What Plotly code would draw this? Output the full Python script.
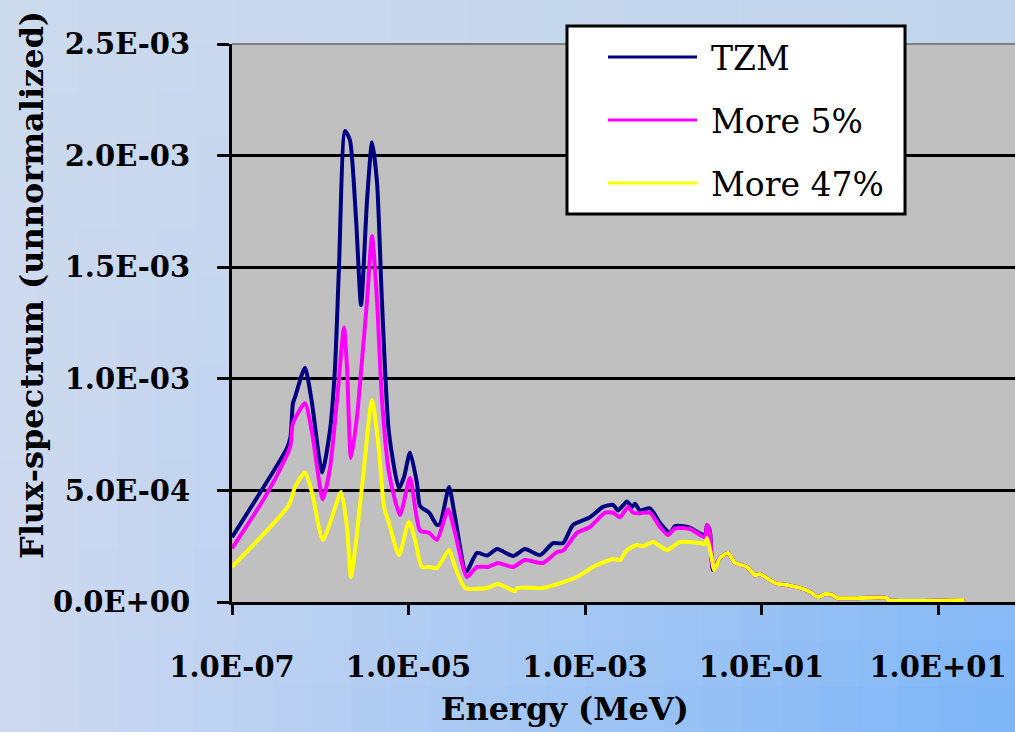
import plotly.graph_objects as go

# ---------------- data ----------------
tzm_E = [1.0e-7, 4.2e-7, 4.6e-7, 4.9e-7, 5.2e-7, 6.7e-7, 8.0e-7, 1.05e-6, 1.29e-6, 1.47e-6,
         1.63e-6, 1.91e-6, 2.17e-6, 2.54e-6, 2.90e-6, 3.39e-6, 3.86e-6, 4.40e-6, 5.0e-6, 6.0e-6,
         7.8e-6, 8.9e-6, 1.04e-5, 1.25e-5, 1.35e-5, 1.71e-5, 2.10e-5, 2.28e-5, 2.88e-5, 3.37e-5,
         4.5e-5, 5.97e-5, 7.76e-5, 1.01e-4, 1.53e-4, 2.09e-4, 3.09e-4, 4.34e-4, 5.64e-4, 7.31e-4,
         1.14e-3, 1.60e-3, 2.08e-3, 2.36e-3, 2.99e-3, 3.41e-3, 3.69e-3, 4.20e-3, 5.45e-3, 7.08e-3,
         9.19e-3, 1.05e-2, 1.47e-2, 2.29e-2, 2.41e-2, 2.6e-2, 2.82e-2]
tzm_v = [2.9e-4, 6.9e-4, 7.4e-4, 8.9e-4, 9.2e-4, 1.05e-3, 9.0e-4, 5.8e-4, 7.7e-4, 1.05e-3,
         1.5e-3, 2.11e-3, 2.07e-3, 1.72e-3, 1.33e-3, 1.80e-3, 2.06e-3, 1.88e-3, 1.35e-3, 7.6e-4,
         5.1e-4, 5.6e-4, 6.7e-4, 5.3e-4, 4.3e-4, 4.0e-4, 3.45e-4, 3.5e-4, 5.15e-4, 3.8e-4,
         1.35e-4, 2.2e-4, 2.08e-4, 2.37e-4, 2.06e-4, 2.37e-4, 2.1e-4, 2.64e-4, 2.64e-4, 3.45e-4,
         3.8e-4, 4.26e-4, 4.35e-4, 4.1e-4, 4.5e-4, 4.26e-4, 4.4e-4, 4.1e-4, 4.2e-4, 3.54e-4,
         3.1e-4, 3.4e-4, 3.36e-4, 3.0e-4, 3.45e-4, 3.2e-4, 1.43e-4]

m5_E = [1.0e-7, 2.37e-7, 3.99e-7, 4.6e-7, 4.9e-7, 6.7e-7, 8.07e-7, 1.07e-6, 1.29e-6, 1.55e-6,
        1.86e-6, 2.01e-6, 2.23e-6, 2.61e-6, 2.97e-6, 3.39e-6, 3.86e-6, 4.40e-6, 5.01e-6, 6.01e-6,
        8.01e-6, 1.04e-5, 1.35e-5, 1.71e-5, 2.10e-5, 2.81e-5, 3.37e-5, 4.60e-5, 5.97e-5, 7.96e-5,
        1.03e-4, 1.53e-4, 2.09e-4, 3.34e-4, 4.82e-4, 5.64e-4, 8.11e-4, 1.14e-3, 1.69e-3, 2.08e-3,
        2.49e-3, 3.07e-3, 3.50e-3, 4.20e-3, 5.45e-3, 7.08e-3, 8.73e-3, 1.05e-2, 1.55e-2, 2.29e-2,
        2.41e-2, 2.6e-2, 2.82e-2]
m5_v = [2.4e-4, 4.7e-4, 6.4e-4, 7.0e-4, 8.0e-4, 8.9e-4, 7.6e-4, 4.6e-4, 6.0e-4, 9.05e-4,
        1.23e-3, 1.05e-3, 6.45e-4, 8.3e-4, 1.08e-3, 1.35e-3, 1.64e-3, 1.35e-3, 9.05e-4, 5.8e-4,
        3.9e-4, 5.55e-4, 3.2e-4, 3.1e-4, 2.78e-4, 4.15e-4, 3.1e-4, 1.12e-4, 1.57e-4, 1.57e-4,
        1.75e-4, 1.57e-4, 1.88e-4, 1.75e-4, 2.24e-4, 2.3e-4, 3.1e-4, 3.36e-4, 4.0e-4, 4.0e-4,
        3.8e-4, 4.26e-4, 4.0e-4, 3.98e-4, 4.0e-4, 3.36e-4, 3.0e-4, 3.3e-4, 3.27e-4, 2.9e-4,
        3.45e-4, 3.1e-4, 1.57e-4]

m47_E = [1.0e-7, 4.43e-7, 5.17e-7, 6.72e-7, 8.07e-7, 1.07e-6, 1.36e-6, 1.72e-6, 2.01e-6, 2.23e-6,
         2.61e-6, 3.13e-6, 3.86e-6, 4.63e-6, 5.28e-6, 6.01e-6, 7.80e-6, 1.01e-5, 1.19e-5, 1.42e-5,
         1.75e-5, 2.10e-5, 2.88e-5, 3.37e-5, 4.37e-5, 7.76e-5, 1.03e-4, 1.61e-4, 1.70e-4, 3.34e-4,
         8.11e-4, 1.23e-3, 2.08e-3, 2.49e-3, 2.99e-3, 3.88e-3, 4.54e-3, 5.90e-3, 8.50e-3, 1.19e-2,
         2.01e-2, 2.29e-2, 2.41e-2, 2.75e-2, 2.90e-2]
m47_v = [1.57e-4, 4.35e-4, 5.15e-4, 5.8e-4, 4.9e-4, 2.78e-4, 3.8e-4, 4.93e-4, 3.36e-4, 1.12e-4,
         3.1e-4, 6.0e-4, 9.05e-4, 6.8e-4, 4.26e-4, 3.54e-4, 2.1e-4, 3.6e-4, 2.78e-4, 1.57e-4,
         1.57e-4, 1.52e-4, 2.33e-4, 1.57e-4, 6.3e-5, 6.3e-5, 8.1e-5, 4.9e-5, 6.3e-5, 6.3e-5,
         1.12e-4, 1.57e-4, 1.93e-4, 1.88e-4, 2.33e-4, 2.55e-4, 2.5e-4, 2.69e-4, 2.33e-4, 2.69e-4,
         2.64e-4, 2.6e-4, 2.87e-4, 1.9e-4, 1.43e-4]

# high-energy tail (all three series coincide here)
tail_E = [3.39e-2, 4.17e-2, 5.01e-2, 6.85e-2, 8.44e-2, 9.62e-2, 1.15e-1, 1.42e-1, 1.95e-1,
          2.73e-1, 3.55e-1, 4.37e-1, 5.24e-1, 6.46e-1, 7.17e-1, 2.64, 2.71, 20.0]
tail_v = [1.97e-4, 2.2e-4, 1.75e-4, 1.57e-4, 1.2e-4, 1.25e-4, 1.07e-4, 8.5e-5, 7.6e-5,
          6.3e-5, 4.5e-5, 2.2e-5, 3.6e-5, 3.1e-5, 1.8e-5, 1.8e-5, 9e-6, 9e-6]

series_names = ["TZM", "More 5%", "More 47%"]
series_colors = ["#000080", "#FF00FF", "#FFFF00"]

x_tick_vals = [1e-7, 1e-5, 1e-3, 1e-1, 1e1]
x_tick_text = ["1.0E-07", "1.0E-05", "1.0E-03", "1.0E-01", "1.0E+01"]
y_tick_vals = [0, 0.0005, 0.001, 0.0015, 0.002, 0.0025]
y_tick_text = ["0.0E+00", "5.0E-04", "1.0E-03", "1.5E-03", "2.0E-03", "2.5E-03"]

x_title = "Energy (MeV)"
y_title = "Flux-spectrum (unnormalized)"

# ---------------- layout geometry ----------------
W, H = 1015, 732
L, R, T, B = 232, 1015, 44, 602   # plot area in pixels
DECADE_PX = 88.25


def px(xp):
    return (xp - L) / (R - L)


def py(yp):
    return (B - yp) / (B - T)


SERIF = "DejaVu Serif"

fig = go.Figure()
for E, v, name, col in [(tzm_E, tzm_v, series_names[0], series_colors[0]),
                        (m5_E, m5_v, series_names[1], series_colors[1]),
                        (m47_E, m47_v, series_names[2], series_colors[2])]:
    fig.add_trace(go.Scatter(
        x=E + tail_E, y=v + tail_v, mode="lines", name=name,
        line=dict(color=col, width=4, shape="spline", smoothing=0.6),
        showlegend=False, hoverinfo="x+y+name"))

shapes = []
TL, TR, BL, BR = (204, 218, 238), (194, 213, 236), (208, 218, 240), (122, 180, 248)
NX, NY = 26, 16
for i in range(NX):
    for j in range(NY):
        u = (i + 0.5) / NX
        w = (j + 0.5) / NY
        c = [round((1 - u) * (1 - w) * TL[k] + u * (1 - w) * TR[k] + (1 - u) * w * BL[k] + u * w * BR[k])
             for k in range(3)]
        x0p = W * i / NX
        x1p = W * (i + 1) / NX + 1
        y0p = H * j / NY
        y1p = H * (j + 1) / NY + 1
        shapes.append(dict(type="rect", xref="paper", yref="paper",
                           x0=px(x0p), x1=px(x1p), y0=py(y1p), y1=py(y0p),
                           fillcolor="rgb(%d,%d,%d)" % tuple(c), line=dict(width=0), layer="below"))
shapes.append(dict(type="rect", xref="paper", yref="paper", x0=0, x1=1, y0=0, y1=1,
                   fillcolor="#C0C0C0", line=dict(width=0), layer="below"))
shapes.append(dict(type="line", xref="paper", yref="paper", x0=0, x1=1, y0=1, y1=1,
                   line=dict(color="#808080", width=2), layer="above"))

shapes.append(dict(type="rect", xref="paper", yref="paper",
                   x0=px(567), x1=px(905), y0=py(214), y1=py(26),
                   fillcolor="white", line=dict(color="black", width=3), layer="above"))
annotations = []
legend_rows_px = [57, 120, 183]
for name, col, yy in zip(series_names, series_colors, legend_rows_px):
    shapes.append(dict(type="line", xref="paper", yref="paper",
                       x0=px(608), x1=px(697), y0=py(yy), y1=py(yy),
                       line=dict(color=col, width=3), layer="above"))
    annotations.append(dict(xref="paper", yref="paper", x=px(709), y=py(yy + 1),
                            xanchor="left", yanchor="middle", text=name, showarrow=False,
                            font=dict(family=SERIF, size=33, color="black")))

annotations.append(dict(xref="paper", yref="paper", x=px(32), y=py(285), text=y_title,
                        textangle=-90, showarrow=False, xanchor="center", yanchor="middle",
                        font=dict(family=SERIF, size=32, color="black", weight="bold")))
annotations.append(dict(xref="paper", yref="paper", x=px(565), y=py(709), text=x_title,
                        showarrow=False, xanchor="center", yanchor="middle",
                        font=dict(family=SERIF, size=32, color="black", weight="bold")))

fig.update_layout(
    width=W, height=H,
    margin=dict(l=L, r=W - R, t=T, b=H - B, pad=0),
    paper_bgcolor="rgb(200,215,238)",
    plot_bgcolor="#C0C0C0",
    showlegend=False,
    shapes=shapes,
    annotations=annotations,
    xaxis=dict(type="log", range=[-7, -7 + (R - L) / DECADE_PX],
               tickvals=x_tick_vals, ticktext=x_tick_text,
               ticks="outside", ticklen=10, tickwidth=3, tickcolor="black",
               showline=True, linecolor="black", linewidth=3,
               showgrid=False, zeroline=False, ticklabelstandoff=27,
               tickfont=dict(family=SERIF, size=29, color="black", weight="bold")),
    yaxis=dict(range=[0, 0.0025], tickvals=y_tick_vals, ticktext=y_tick_text,
               ticks="outside", ticklen=12, tickwidth=3, tickcolor="black",
               showline=True, linecolor="black", linewidth=3,
               showgrid=True, gridcolor="black", gridwidth=3, zeroline=False,
               ticklabelstandoff=21,
               tickfont=dict(family=SERIF, size=29, color="black", weight="bold")),
)

fig.write_html("out.html", config={"displayModeBar": False},
               post_script="document.body.style.margin='0px';")
